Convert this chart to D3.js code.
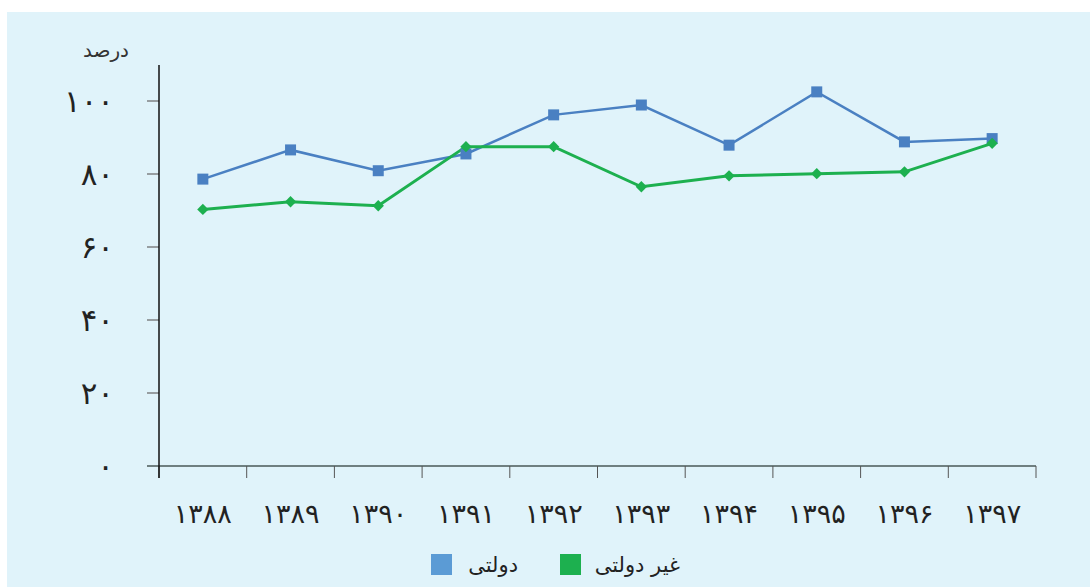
<!DOCTYPE html>
<html>
<head>
<meta charset="utf-8">
<script src="https://cdnjs.cloudflare.com/ajax/libs/d3/7.8.5/d3.min.js"></script>
<style>
  body { margin: 0; background: #fff; }
  svg { display: block; }
</style>
</head>
<body>
<svg width="1090" height="587"></svg>
<script>
const years = ['۱۳۸۸', '۱۳۸۹', '۱۳۹۰', '۱۳۹۱', '۱۳۹۲', '۱۳۹۳', '۱۳۹۴', '۱۳۹۵', '۱۳۹۶', '۱۳۹۷'];
const govt = [78.6, 86.6, 80.9, 85.5, 96.2, 98.9, 87.9, 102.5, 88.8, 89.7];
const nonGovt = [70.3, 72.4, 71.3, 87.5, 87.5, 76.5, 79.5, 80.1, 80.6, 88.4];
const yTicks = [0, 20, 40, 60, 80, 100];
const yTickLabels = ['۰', '۲۰', '۴۰', '۶۰', '۸۰', '۱۰۰'];
const seriesNames = ['دولتی', 'غیر دولتی'];

const svg = d3.select('svg');
const font = '"DejaVu Sans", sans-serif';

// panel background
svg.append('rect').attr('x', 7).attr('y', 12).attr('width', 1083).attr('height', 575)
    .attr('fill', '#e0f3fa');

const x = d3.scaleBand().domain(years).range([159, 1036]);
const y = d3.scaleLinear().domain([0, 100]).range([466, 101]);

// y ticks
svg.selectAll('.ytick').data(yTicks).join('line')
    .attr('x1', 147).attr('x2', 159)
    .attr('y1', d => y(d)).attr('y2', d => y(d))
    .attr('stroke', '#666').attr('stroke-width', 1.2);

svg.selectAll('.ylab').data(yTicks).join('text')
    .attr('x', 114).attr('y', d => y(d) + 11)
    .attr('text-anchor', 'end')
    .style('font-family', font).style('font-size', '31px').attr('fill', '#222')
    .text((d, i) => yTickLabels[i]);

svg.append('text').attr('x', 129).attr('y', 57).attr('text-anchor', 'end')
    .style('font-family', font).style('font-size', '20px').attr('fill', '#333')
    .text('درصد');

// x axis line + ticks
svg.append('line').attr('x1', 147).attr('x2', 1036).attr('y1', 466).attr('y2', 466)
    .attr('stroke', '#6f7f80').attr('stroke-width', 2);
const xEdges = years.map(d => x(d)).concat([x.range()[1]]);
svg.selectAll('.xtick').data(xEdges).join('line')
    .attr('x1', d => d).attr('x2', d => d).attr('y1', 466).attr('y2', 478)
    .attr('stroke', '#555').attr('stroke-width', 1);

svg.selectAll('.xlab').data(years).join('text')
    .attr('x', d => x(d) + x.bandwidth() / 2).attr('y', 523)
    .attr('text-anchor', 'middle')
    .style('font-family', font).style('font-size', '27px').attr('fill', '#222')
    .text(d => d);

// y axis line
svg.append('line').attr('x1', 159).attr('x2', 159).attr('y1', 65).attr('y2', 478)
    .attr('stroke', '#111').attr('stroke-width', 1.5);

const cx = d => x(d) + x.bandwidth() / 2;
const line = d3.line().x((d, i) => cx(years[i])).y(d => y(d));

svg.append('path').datum(govt).attr('d', line)
    .attr('fill', 'none').attr('stroke', '#4a80c2').attr('stroke-width', 2.5);
svg.append('path').datum(nonGovt).attr('d', line)
    .attr('fill', 'none').attr('stroke', '#1db04f').attr('stroke-width', 3);

svg.selectAll('.gm').data(govt).join('rect')
    .attr('x', (d, i) => cx(years[i]) - 5.5).attr('y', d => y(d) - 5.5)
    .attr('width', 11).attr('height', 11).attr('fill', '#4a80c2');

svg.selectAll('.nm').data(nonGovt).join('path')
    .attr('d', d3.symbol(d3.symbolSquare, 64))
    .attr('transform', (d, i) => `translate(${cx(years[i])},${y(d)}) rotate(45)`)
    .attr('fill', '#1db04f');

// legend
const legend = [
  { name: seriesNames[0], color: '#5b9bd5', boxX: 431, textX: 518 },
  { name: seriesNames[1], color: '#1db04f', boxX: 560, textX: 680 }
];
svg.selectAll('.lgbox').data(legend).join('rect')
    .attr('x', d => d.boxX).attr('y', 554).attr('width', 21).attr('height', 21)
    .attr('fill', d => d.color);
svg.selectAll('.lgtxt').data(legend).join('text')
    .attr('x', d => d.textX).attr('y', 572).attr('text-anchor', 'end')
    .style('font-family', font).style('font-size', '21px').attr('fill', '#222')
    .text(d => d.name);
</script>
</body>
</html>
